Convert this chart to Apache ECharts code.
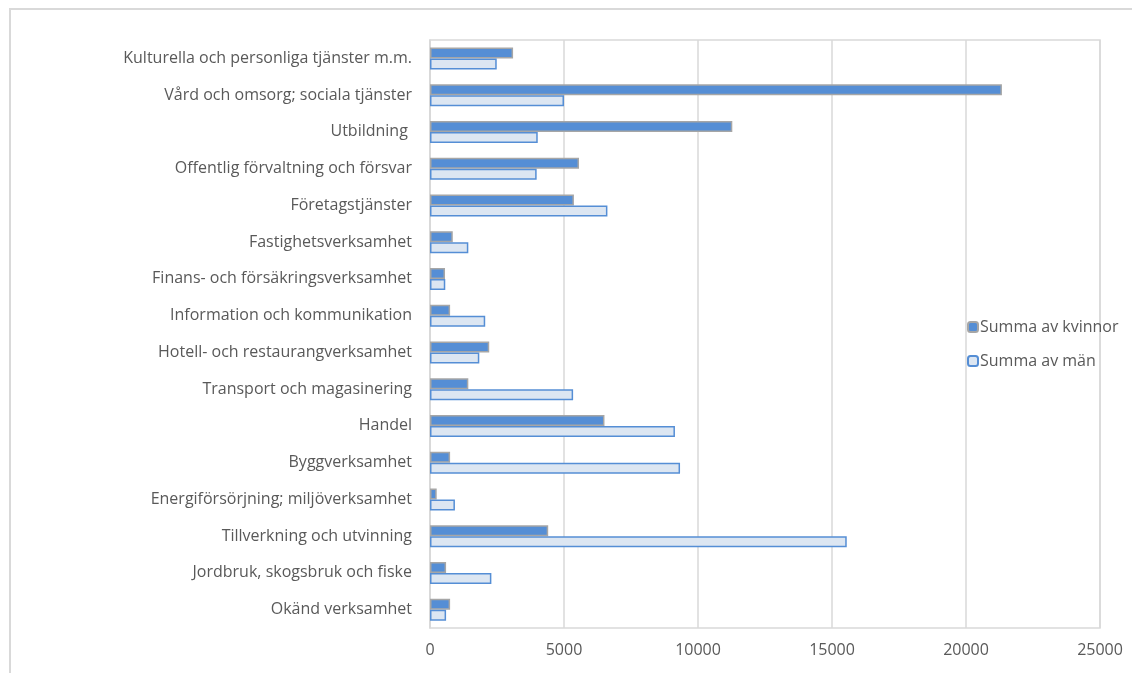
<!DOCTYPE html>
<html>
<head>
<meta charset="utf-8">
<script src="https://cdn.jsdelivr.net/npm/echarts@6/dist/echarts.min.js"></script>
<style>
  html, body { margin: 0; padding: 0; background: #fff; }
  #wrap { position: relative; width: 1132px; height: 673px; overflow: hidden; }
  #frame { position: absolute; left: 9px; top: 8px; width: 1200px; height: 700px; border: 2px solid #d9d9d9; }
  #chart { position: absolute; left: 0; top: 0; width: 1132px; height: 673px; }
</style>
</head>
<body>
<div id="wrap">
  <div id="frame"></div>
  <div id="chart"></div>
</div>
<script>
// top to bottom, as in the picture
const categories = [
  'Kulturella och personliga tjänster m.m.',
  'Vård och omsorg; sociala tjänster',
  'Utbildning ',
  'Offentlig förvaltning och försvar',
  'Företagstjänster',
  'Fastighetsverksamhet',
  'Finans- och försäkringsverksamhet',
  'Information och kommunikation',
  'Hotell- och restaurangverksamhet',
  'Transport och magasinering',
  'Handel',
  'Byggverksamhet',
  'Energiförsörjning; miljöverksamhet',
  'Tillverkning och utvinning',
  'Jordbruk, skogsbruk och fiske',
  'Okänd verksamhet'
];
const kvinnor = [3100, 21340, 11280, 5560, 5370, 850, 560, 750, 2210, 1430, 6510, 750, 250, 4410, 600, 750];
const man = [2490, 5000, 4020, 3980, 6620, 1430, 570, 2060, 1840, 5340, 9140, 9330, 930, 15550, 2290, 600];
const xTicks = [0, 5000, 10000, 15000, 20000, 25000];

const font = '"Open Sans", Lato, sans-serif';
const chart = echarts.init(document.getElementById('chart'));

chart.setOption({
  animation: false,
  textStyle: { fontFamily: font },
  grid: {
    left: 430, right: 32, top: 40, bottom: 45,
    show: true, borderColor: '#d9d9d9', borderWidth: 1.5
  },
  legend: {
    orient: 'vertical',
    left: 962, top: 314,
    itemWidth: 10, itemHeight: 10, itemGap: 18,
    textStyle: { fontSize: 16, color: '#595959', fontFamily: font, padding: [0, 0, 0, -3] },
    data: ['Summa av kvinnor', 'Summa av män']
  },
  xAxis: {
    type: 'value',
    min: xTicks[0], max: xTicks[xTicks.length - 1], interval: 5000,
    axisLine: { show: false },
    axisTick: { show: false },
    axisLabel: { fontSize: 16, color: '#595959', margin: 14, fontFamily: font, formatter: v => String(v) },
    splitLine: { lineStyle: { color: '#d9d9d9', width: 1.5 } }
  },
  yAxis: {
    type: 'category',
    inverse: true,
    data: categories,
    axisLine: { show: true, lineStyle: { color: '#d9d9d9', width: 1.5 } },
    axisTick: { show: false },
    axisLabel: { fontSize: 16, color: '#595959', margin: 18, fontFamily: font }
  },
  series: [
    {
      name: 'Summa av kvinnor',
      type: 'bar',
      data: kvinnor,
      barWidth: 11,
      barGap: '0%',
      itemStyle: { color: '#558ed5', borderColor: '#a6a6a6', borderWidth: 1.5 }
    },
    {
      name: 'Summa av män',
      type: 'bar',
      data: man,
      barWidth: 11,
      barGap: '0%',
      itemStyle: { color: '#dce6f2', borderColor: '#558ed5', borderWidth: 1.5 }
    }
  ]
});
</script>
</body>
</html>
